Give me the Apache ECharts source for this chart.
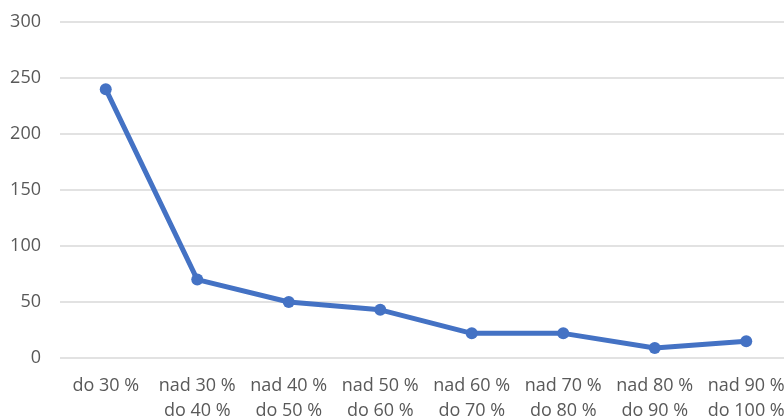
<!DOCTYPE html>
<html>
<head>
<meta charset="utf-8">
<script src="https://cdn.jsdelivr.net/npm/echarts@6/dist/echarts.min.js"></script>
<style>
html,body{margin:0;padding:0;background:#fff;}
#chart{width:784px;height:418px;}
</style>
</head>
<body>
<div id="chart"></div>
<script>
const categories = ["do 30 %", "nad 30 %\ndo 40 %", "nad 40 %\ndo 50 %", "nad 50 %\ndo 60 %", "nad 60 %\ndo 70 %", "nad 70 %\ndo 80 %", "nad 80 %\ndo 90 %", "nad 90 %\ndo 100 %"];
const values = [240, 70, 50, 43, 22, 22, 9, 15];
const yMin = 0, yMax = 300, yStep = 50;

const chart = echarts.init(document.getElementById('chart'), null, {renderer: 'canvas'});
chart.setOption({
  animation: false,
  backgroundColor: '#ffffff',
  grid: {left: 60, right: -8, top: 22, bottom: 60, containLabel: false, outerBoundsMode: 'none'},
  xAxis: {
    type: 'category',
    data: categories,
    boundaryGap: true,
    axisLine: {show: false},
    axisTick: {show: false},
    axisLabel: {
      color: '#595959', fontFamily: 'Open Sans', fontSize: 18, lineHeight: 25,
      margin: 15, interval: 0, hideOverlap: false
    }
  },
  yAxis: {
    type: 'value',
    min: yMin, max: yMax, interval: yStep,
    axisLine: {show: false},
    axisTick: {show: false},
    splitLine: {lineStyle: {color: '#d9d9d9', width: 1.5}},
    axisLabel: {color: '#595959', fontFamily: 'Open Sans', fontSize: 18, margin: 19}
  },
  series: [{
    type: 'line',
    data: values,
    symbol: 'circle',
    symbolSize: 12,
    lineStyle: {color: '#4472C4', width: 5},
    itemStyle: {color: '#4472C4'}
  }]
});
</script>
</body>
</html>
